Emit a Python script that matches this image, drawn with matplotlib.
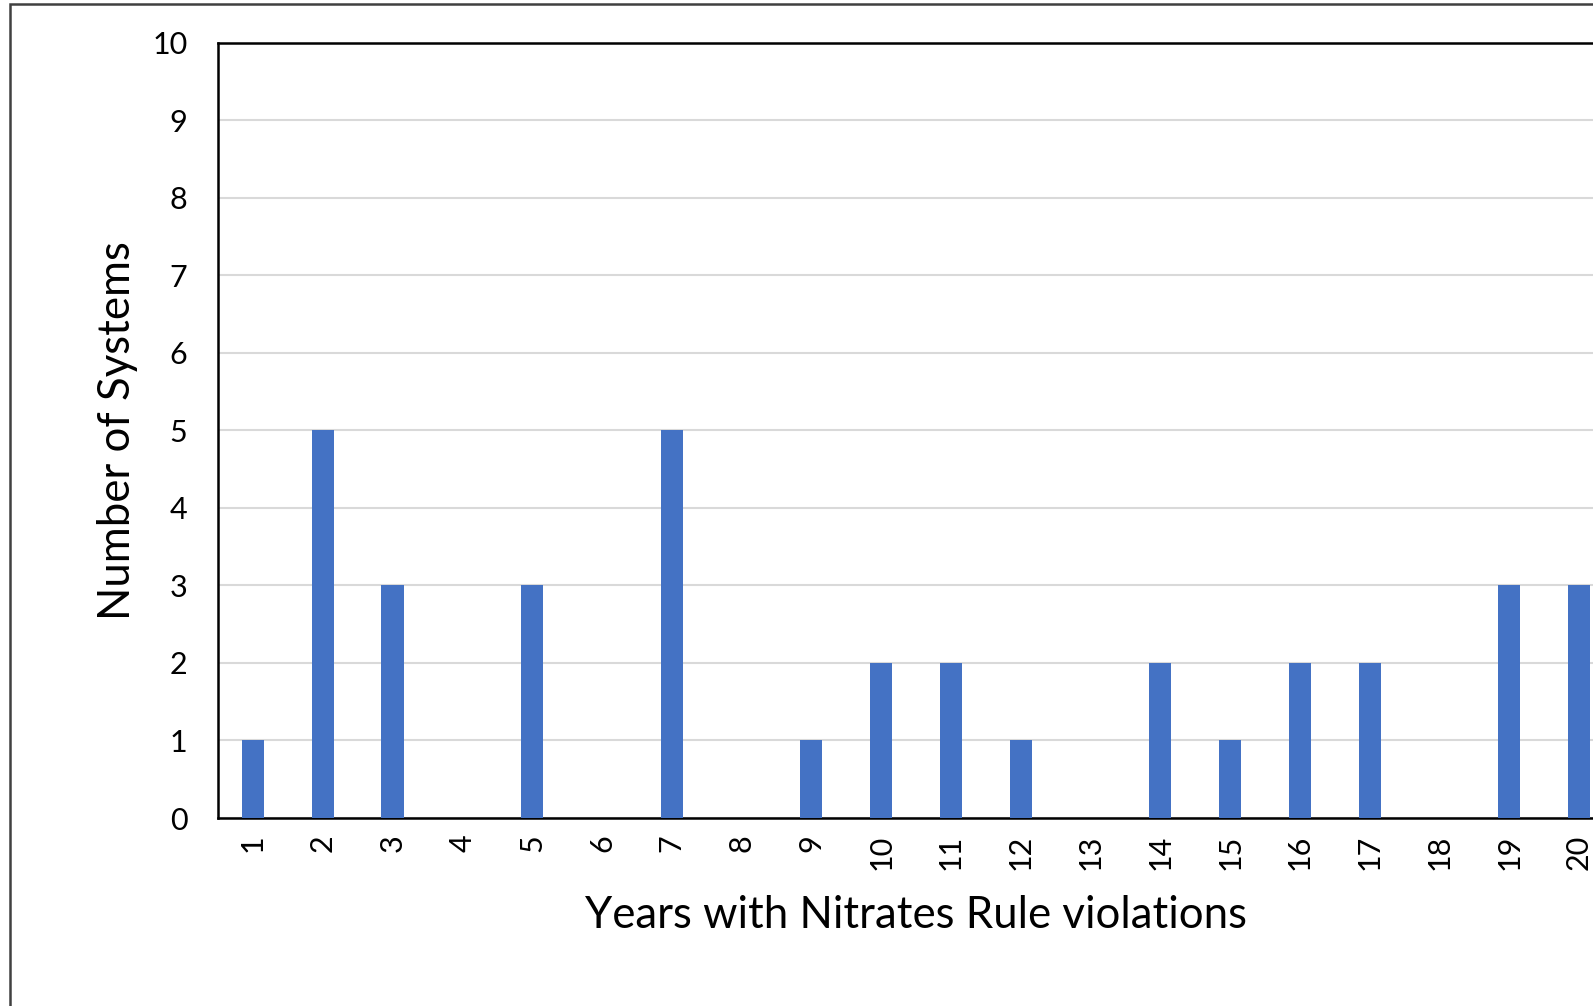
import matplotlib.pyplot as plt
import matplotlib.patches as patches

years = [str(i) for i in range(1, 21)]
systems = [1, 5, 3, 0, 3, 0, 5, 0, 1, 2, 2, 1, 0, 2, 1, 2, 2, 0, 3, 3]

plt.rcParams['font.family'] = ['Lato', 'DejaVu Sans']

W, H = 1593, 1006
fig = plt.figure(figsize=(W / 100, H / 100), dpi=100)

# axes run past the right edge of the picture, like the cropped original
ax = fig.add_axes([218 / W, (H - 818) / H, 1396 / W, (818 - 42.7) / H])
x = list(range(1, 21))
ax.bar(x, systems, width=0.32, color='#4472C4', zorder=3)

ax.set_xlim(0.5, 20.5)
ax.set_ylim(0, 10)
ax.set_yticks(range(0, 11))
ax.set_xticks(x)
ax.set_xticklabels(years, rotation=90)
ax.tick_params(axis='both', length=0, labelsize=22)
ax.tick_params(axis='y', pad=22)
ax.tick_params(axis='x', pad=12)
ax.grid(axis='y', color='#d9d9d9', linewidth=1.5, zorder=0)

for s in ['left', 'top', 'bottom']:
    ax.spines[s].set_linewidth(1.8)
    ax.spines[s].set_color('black')
ax.spines['right'].set_visible(False)

ax.set_ylabel('Number of Systems', fontsize=31.5, labelpad=10)
ax.set_xlabel('Years with Nitrates Rule violations', fontsize=31.5, labelpad=18)

# outer chart-area border
border = patches.Rectangle((10 / W, -0.1), 2.0, (H - 4) / H + 0.1,
                           transform=fig.transFigure, fill=False,
                           edgecolor='#404040', linewidth=1.8, clip_on=False)
fig.patches.append(border)

fig.savefig('out.png', dpi=100)
